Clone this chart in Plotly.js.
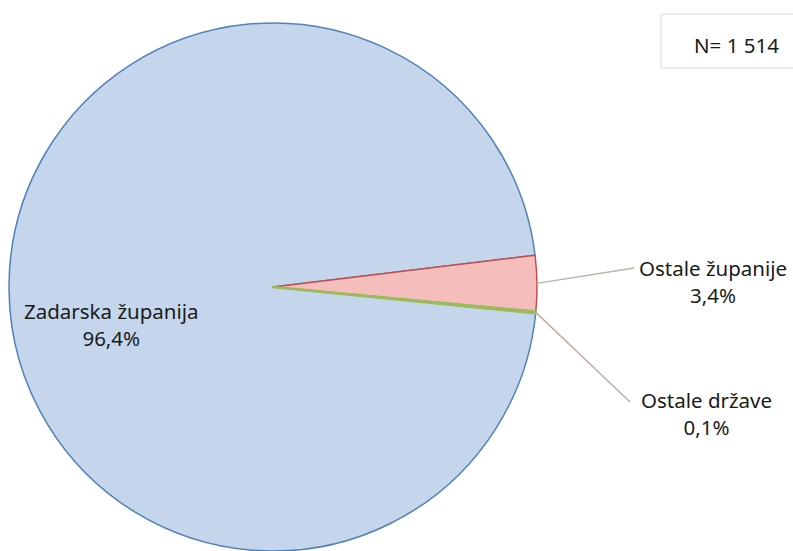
<!DOCTYPE html>
<html>
<head>
<meta charset="utf-8">
<script src="https://cdn.plot.ly/plotly-3.0.1.min.js"></script>
<style>html,body{margin:0;padding:0;background:#fff;}#chart{width:793px;height:551px;}</style>
</head>
<body>
<div id="chart"></div>
<script>
// Data
var categories = ["Zadarska županija", "Ostale županije", "Ostale države"];
var values = [96.4, 3.4, 0.1];
var valueLabels = ["96,4%", "3,4%", "0,1%"];
var sampleLabel = "N= 1 514";

var W = 793, H = 551;
var cx = 273, cy = 287, R = 264;
var rotation = 95.7;

var fills = ["#c5d6ec", "#f5bdbc", "#c5d9a0"];
var lines = ["#4f81bd", "#c0504d", "#9bbb59"];

var trace = {
  type: "pie",
  labels: categories,
  values: values,
  sort: false,
  direction: "clockwise",
  rotation: rotation,
  textinfo: "none",
  hoverinfo: "label+percent",
  showlegend: false,
  marker: {colors: fills, line: {color: lines, width: [1.5, 1.5, 2.5]}},
  domain: {x: [(cx - R) / W, (cx + R) / W], y: [1 - (cy + R) / H, 1 - (cy - R) / H]}
};

// leader-line tips computed from slice geometry
var total = values.reduce(function(a, b){return a + b;}, 0);
function midPoint(i) {
  var cum = 0;
  for (var k = 0; k < i; k++) cum += values[k];
  var a = (rotation + (cum + values[i] / 2) / total * 360) * Math.PI / 180;
  return [cx + R * Math.sin(a), cy - R * Math.cos(a)];
}

var font = {family: "Noto Sans, Open Sans, sans-serif", size: 20.5, color: "#1a1a1a"};
function px(x){return x / W;}
function py(y){return 1 - y / H;}

// label anchor positions (pixels): text centre, leader end
var labelPos = [null, {tx: 713, ty: 281, ex: 634, ey: 268}, {tx: 706, ty: 413, ex: 630, ey: 402}];

function ann(x, y, text) {
  return {xref: "paper", yref: "paper", x: px(x), y: py(y), xanchor: "center", yanchor: "middle",
    text: text, showarrow: false, font: font, align: "center"};
}

var annotations = [
  ann(111, 324, categories[0] + "<br>" + valueLabels[0]),
  ann(736, 45, sampleLabel)
];
var shapes = [
  {type: "rect", xref: "paper", yref: "paper", x0: px(661), x1: px(800), y0: py(68), y1: py(14),
   line: {color: "#d9d9d9", width: 1}, fillcolor: "rgba(0,0,0,0)"}
];
for (var i = 1; i < categories.length; i++) {
  var p = labelPos[i];
  var tip = midPoint(i);
  annotations.push(ann(p.tx, p.ty, categories[i] + "<br>" + valueLabels[i]));
  shapes.push({type: "line", xref: "paper", yref: "paper", x0: px(tip[0]), y0: py(tip[1]),
    x1: px(p.ex), y1: py(p.ey), line: {color: "#bcb0a6", width: 1.5}});
}

var layout = {
  width: W, height: H,
  margin: {l: 0, r: 0, t: 0, b: 0},
  paper_bgcolor: "#ffffff",
  plot_bgcolor: "#ffffff",
  annotations: annotations,
  shapes: shapes
};

Plotly.newPlot("chart", [trace], layout, {displayModeBar: false, staticPlot: true});
</script>
</body>
</html>
